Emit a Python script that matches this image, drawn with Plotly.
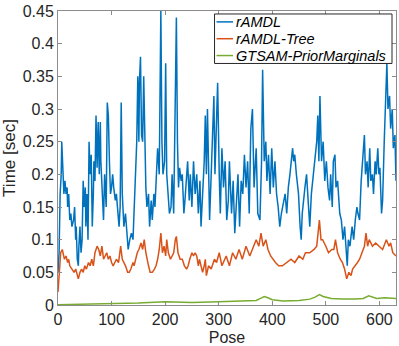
import plotly.graph_objects as go

# ---- data ----
blue_pose = [0,2,4,6,7,9,11,13,15,17,18,20,22,24,26,29,31,33,34,36,38,39,41,43,45,47,49,51,52,54,56,58,60,62,64,66,67,69,71,73,75,77,79,80,83,85,87,90,92,94,96,98,100,102,104,107,109,112,114,116,118,120,123,126,129,131,134,137,140,143,145,147,149,151,152,154,156,158,160,162,164,166,169,171,174,176,179,181,184,186,189,192,194,196,199,201,203,206,208,211,213,216,218,221,223,225,227,230,232,235,237,240,242,245,247,250,253,256,259,262,265,267,270,273,275,277,279,283,286,289,291,293,296,298,301,303,306,309,312,315,318,320,324,327,330,333,336,339,342,345,348,351,354,357,360,363,366,370,373,377,380,382,385,388,390,393,396,399,402,405,408,411,414,417,421,424,427,430,433,436,438,440,442,445,449,452,454,456,459,461,464,467,470,473,477,480,483,485,487,489,492,495,498,501,504,507,509,512,514,517,519,522,526,529,532,535,538,540,542,545,549,552,555,558,560,563,566,569,572,574,577,579,582,584,587,589,592,594,597,599,601,604,606,609,611,614,616,619,621,624,626,629,631]
blue_time = [0.05,0.08,0.17,0.2,0.25,0.22,0.17,0.19,0.17,0.18,0.15,0.17,0.13,0.14,0.12,0.13,0.15,0.1,0.12,0.07,0.06,0.09,0.12,0.08,0.1,0.19,0.15,0.18,0.12,0.17,0.1,0.25,0.2,0.23,0.12,0.17,0.22,0.19,0.29,0.21,0.28,0.2,0.28,0.22,0.17,0.13,0.2,0.15,0.31,0.29,0.22,0.17,0.18,0.2,0.18,0.16,0.17,0.14,0.12,0.15,0.31,0.17,0.12,0.14,0.1,0.085,0.1,0.11,0.1,0.16,0.22,0.25,0.35,0.25,0.34,0.38,0.26,0.25,0.35,0.24,0.18,0.15,0.17,0.12,0.16,0.13,0.17,0.15,0.2,0.24,0.2,0.45,0.25,0.2,0.22,0.37,0.2,0.17,0.14,0.15,0.2,0.14,0.24,0.44,0.25,0.18,0.21,0.19,0.2,0.14,0.16,0.21,0.22,0.16,0.2,0.15,0.22,0.17,0.2,0.14,0.19,0.12,0.17,0.22,0.29,0.2,0.3,0.13,0.2,0.26,0.32,0.2,0.28,0.34,0.2,0.14,0.24,0.18,0.22,0.13,0.16,0.22,0.14,0.19,0.11,0.16,0.2,0.12,0.19,0.17,0.23,0.18,0.22,0.14,0.27,0.3,0.18,0.24,0.14,0.13,0.22,0.36,0.22,0.25,0.19,0.23,0.17,0.24,0.18,0.22,0.17,0.15,0.12,0.14,0.16,0.17,0.14,0.18,0.2,0.23,0.24,0.22,0.23,0.2,0.17,0.12,0.1,0.14,0.17,0.18,0.2,0.15,0.12,0.17,0.2,0.23,0.25,0.29,0.22,0.32,0.22,0.25,0.19,0.22,0.18,0.16,0.2,0.15,0.22,0.23,0.18,0.19,0.14,0.13,0.1,0.12,0.09,0.06,0.1,0.09,0.12,0.1,0.13,0.15,0.14,0.13,0.19,0.23,0.26,0.2,0.22,0.18,0.24,0.19,0.2,0.17,0.22,0.2,0.24,0.2,0.21,0.14,0.16,0.25,0.3,0.37,0.3,0.32,0.27,0.3,0.24,0.26,0.19]

orange_pose = [0,3,5,8,10,12,15,18,20,22,26,30,33,36,38,41,44,47,50,53,57,60,63,66,69,73,76,79,82,85,88,91,94,97,100,103,106,109,113,117,120,123,126,130,133,136,140,142,145,148,151,155,158,161,164,166,169,172,176,180,183,186,189,192,195,198,201,203,206,210,213,216,219,221,224,228,232,236,240,243,246,250,253,256,259,262,264,270,273,275,277,281,286,292,296,301,306,314,320,326,332,338,344,351,358,370,375,379,383,388,392,397,406,412,419,427,435,442,450,457,462,470,478,483,486,488,491,494,500,505,511,515,518,522,527,531,535,539,543,547,550,555,559,563,567,572,575,578,581,587,593,600,606,613,618,621,625,631]
orange_time = [0.02,0.07,0.08,0.085,0.075,0.07,0.075,0.065,0.07,0.06,0.055,0.05,0.055,0.045,0.04,0.05,0.055,0.05,0.06,0.055,0.065,0.06,0.07,0.06,0.08,0.09,0.085,0.075,0.09,0.07,0.075,0.08,0.07,0.075,0.065,0.06,0.065,0.07,0.065,0.09,0.07,0.065,0.06,0.05,0.05,0.055,0.065,0.06,0.07,0.08,0.085,0.095,0.085,0.1,0.08,0.07,0.06,0.05,0.05,0.055,0.06,0.07,0.085,0.11,0.08,0.09,0.075,0.1,0.08,0.07,0.075,0.08,0.1,0.105,0.08,0.07,0.07,0.06,0.055,0.06,0.07,0.08,0.075,0.08,0.075,0.06,0.07,0.05,0.06,0.07,0.045,0.06,0.055,0.07,0.065,0.08,0.06,0.075,0.06,0.08,0.07,0.085,0.07,0.09,0.075,0.1,0.09,0.11,0.09,0.1,0.085,0.075,0.065,0.06,0.06,0.065,0.07,0.065,0.075,0.07,0.08,0.08,0.085,0.09,0.11,0.13,0.1,0.1,0.09,0.08,0.085,0.085,0.1,0.08,0.07,0.065,0.055,0.04,0.05,0.045,0.055,0.06,0.065,0.07,0.08,0.09,0.11,0.09,0.1,0.09,0.095,0.09,0.085,0.1,0.09,0.095,0.08,0.075]

green_pose = [0,50,100,150,200,250,300,350,370,380,385,392,400,420,450,470,480,488,495,510,530,555,570,580,585,595,610,631]
green_time = [0.0005,0.001,0.0025,0.003,0.005,0.004,0.005,0.006,0.007,0.011,0.013,0.011,0.008,0.006,0.007,0.009,0.012,0.016,0.013,0.01,0.009,0.009,0.01,0.014,0.013,0.01,0.011,0.01]

series_names = ["rAMDL", "rAMDL-Tree", "GTSAM-PriorMarginals"]
series_colors = ["#0072BD", "#D95319", "#77AC30"]

x_ticks = [0, 100, 200, 300, 400, 500, 600]
y_ticks = [0, 0.05, 0.1, 0.15, 0.2, 0.25, 0.3, 0.35, 0.4, 0.45]
y_ticktext = ["0", "0.05", "0.1", "0.15", "0.2", "0.25", "0.3", "0.35", "0.4", "0.45"]

# ---- figure ----
W, H = 399, 346
ML, MR, MT, MB = 58, 2, 11, 38
PW, PH = W - ML - MR, H - MT - MB

def px(xp):
    return (xp - ML) / PW

def py(yp):
    return (H - MB - yp) / PH

fig = go.Figure()
for xs, ys, name, col in zip([blue_pose, orange_pose, green_pose],
                             [blue_time, orange_time, green_time],
                             series_names, series_colors):
    fig.add_trace(go.Scatter(x=xs, y=ys, mode="lines", name=name,
                             line=dict(color=col, width=1.5), showlegend=False))

FONT = "Liberation Sans, Arial, Helvetica, sans-serif"
axis_common = dict(showline=True, linecolor="#8c8c8c", linewidth=1, mirror="ticks",
                   ticks="inside", ticklen=4, tickcolor="#8c8c8c", showgrid=False,
                   zeroline=False, tickfont=dict(family=FONT, size=16, color="#262626"))

fig.update_layout(
    width=W, height=H,
    margin=dict(l=ML, r=MR, t=MT, b=MB, pad=0),
    paper_bgcolor="white", plot_bgcolor="white",
    xaxis=dict(range=[0, 631], tickvals=x_ticks, **axis_common,
               title=dict(text="Pose", font=dict(family=FONT, size=16, color="#262626"), standoff=5)),
    yaxis=dict(range=[0, 0.45], tickvals=y_ticks, ticktext=y_ticktext, **axis_common,
               title=dict(text="Time [sec]", font=dict(family=FONT, size=17, color="#262626"), standoff=2)),
)

# legend box (MATLAB style)
lx0, lx1, ly0, ly1 = 215, 393, 14, 64
fig.add_shape(type="rect", xref="paper", yref="paper", x0=px(lx0), x1=px(lx1), y0=py(ly1), y1=py(ly0),
              line=dict(color="#262626", width=1), fillcolor="white", layer="above")
rows = [22.0, 39.0, 56.0]
for name, col, ry in zip(series_names, series_colors, rows):
    fig.add_shape(type="line", xref="paper", yref="paper", x0=px(217), x1=px(233.5), y0=py(ry), y1=py(ry),
                  line=dict(color=col, width=1.5), layer="above")
    fig.add_annotation(xref="paper", yref="paper", x=px(235), y=py(ry), xanchor="left", yanchor="middle",
                       text="<i>" + name + "</i>", showarrow=False,
                       font=dict(family=FONT, size=14.5, color="#000000"))

fig.write_html("out.html", config={"displayModeBar": False},
               post_script="document.body.style.margin='0px';document.body.style.overflow='hidden';")
